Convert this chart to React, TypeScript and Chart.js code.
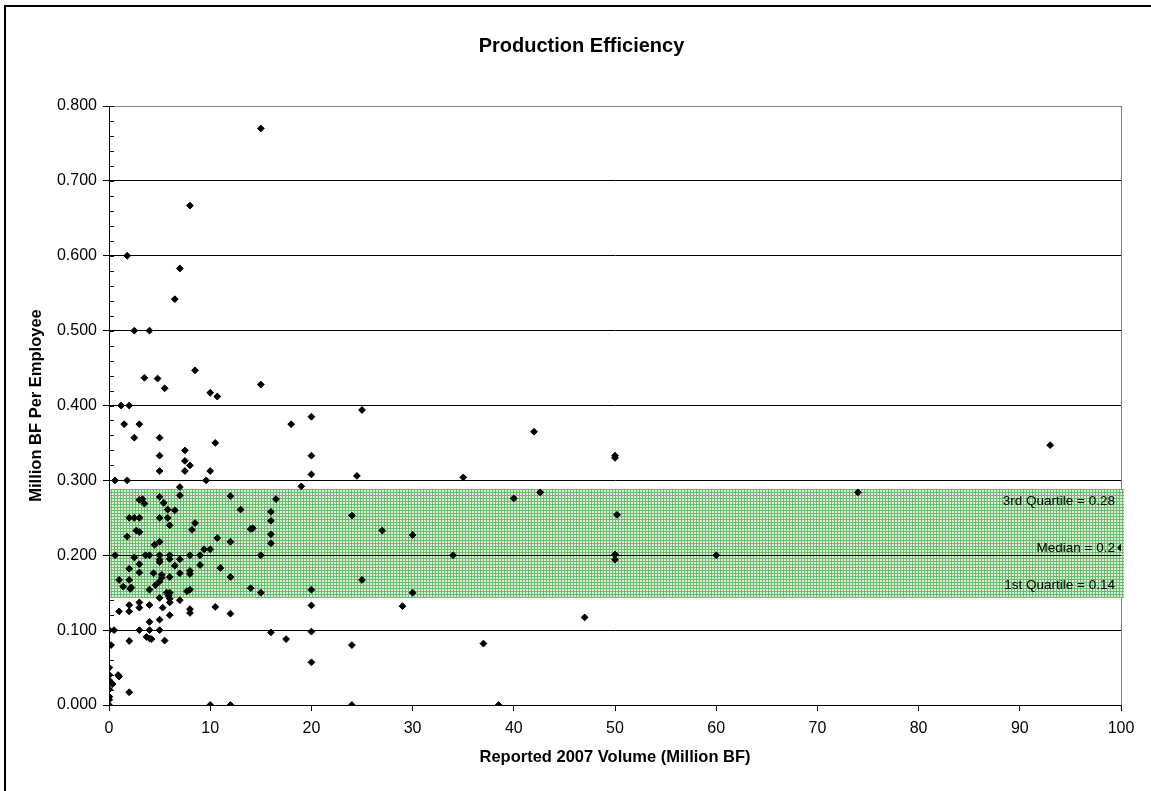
import React, { useEffect, useRef } from "react";
import { Chart, registerables } from "chart.js";

Chart.register(...registerables);

// Reported 2007 volume (Million BF)
const volume: number[] = [
  15, 8, 1.8, 7, 6.5, 2.5, 4, 8.5, 3.5, 4.8,
  15, 5.5, 10, 10.7, 1.2, 2, 20, 25, 1.5, 3,
  18, 42, 2.5, 5, 10.5, 93, 7.5, 5, 20, 50,
  50, 7.5, 8, 5, 7.5, 10, 20, 24.5, 35, 0.6,
  1.8, 9.6, 7, 19, 74, 42.6, 7, 5, 12, 40,
  16.5, 3, 3.3, 3.5, 5.4, 5.8, 6.5, 13, 16, 50.2,
  24, 2, 2.5, 3, 5, 5.8, 16, 8.5, 6, 8.2,
  14, 14.2, 27, 2.7, 3, 16, 30, 1.8, 10.7, 12,
  5, 4.5, 16, 100, 9.4, 10, 0.6, 3.6, 4, 5,
  6, 8, 9, 15, 34, 50, 60, 2.5, 6, 7,
  5, 5, 50, 3, 6.5, 9, 2, 11, 8, 3,
  4.4, 7, 8, 5.2, 6, 12, 5.2, 1, 2, 25,
  5, 4.6, 1.4, 2.2, 2.1, 14, 4, 8, 20, 7.7,
  5.7, 6, 15, 30, 5.9, 5, 6, 7, 6, 3,
  2, 4, 20, 29, 10.5, 3, 5.3, 8, 1, 2,
  8, 12, 6, 47, 5, 4, 0.03, 0.5, 3, 4,
  5, 16, 20, 3.7, 4, 4.2, 17.5, 5.5, 2, 37,
  0.2, 24, 20, 0.03, 0.03, 0.9, 1, 0.03, 0.36, 0.03,
  2, 0.03, 0.02, 0, 10, 12, 24, 38.5,
];

// Million BF per employee
const perEmployee: number[] = [
  0.77, 0.667, 0.6, 0.583, 0.542, 0.5, 0.5, 0.447, 0.437, 0.436,
  0.428, 0.423, 0.417, 0.412, 0.4, 0.4, 0.385, 0.394, 0.375, 0.375,
  0.375, 0.365, 0.357, 0.357, 0.35, 0.347, 0.34, 0.333, 0.333, 0.333,
  0.33, 0.326, 0.32, 0.3125, 0.3125, 0.3125, 0.308, 0.306, 0.304, 0.3,
  0.3, 0.3, 0.291, 0.292, 0.284, 0.284, 0.28, 0.278, 0.279, 0.276,
  0.275, 0.274, 0.275, 0.269, 0.27, 0.261, 0.26, 0.261, 0.258, 0.254,
  0.253, 0.25, 0.25, 0.25, 0.25, 0.25, 0.246, 0.243, 0.24, 0.234,
  0.235, 0.236, 0.233, 0.233, 0.231, 0.228, 0.227, 0.225, 0.223, 0.218,
  0.218, 0.214, 0.216, 0.21, 0.208, 0.208, 0.2, 0.2, 0.2, 0.2,
  0.2, 0.2, 0.2, 0.2, 0.2, 0.201, 0.2, 0.197, 0.195, 0.1945,
  0.194, 0.191, 0.194, 0.188, 0.186, 0.187, 0.182, 0.183, 0.179, 0.177,
  0.176, 0.176, 0.175, 0.174, 0.171, 0.171, 0.17, 0.167, 0.167, 0.167,
  0.165, 0.16, 0.158, 0.157, 0.155, 0.156, 0.154, 0.154, 0.154, 0.152,
  0.15, 0.15, 0.15, 0.15, 0.146, 0.143, 0.142, 0.14, 0.137, 0.137,
  0.1335, 0.1335, 0.133, 0.132, 0.131, 0.13, 0.13, 0.128, 0.125, 0.125,
  0.123, 0.122, 0.12, 0.117, 0.114, 0.111, 0.1, 0.1, 0.1, 0.1,
  0.1, 0.097, 0.098, 0.091, 0.089, 0.088, 0.088, 0.086, 0.0855, 0.082,
  0.08, 0.08, 0.057, 0.05, 0.04, 0.04, 0.038, 0.033, 0.028, 0.021,
  0.017, 0.011, 0.007, 0, 0, 0, 0, 0,
];

const chartTitle = "Production Efficiency";
const xTitle = "Reported 2007 Volume (Million BF)";
const yTitle = "Million BF Per Employee";

// Quartile band
const bandLow = [0.143];
const bandHigh = [0.2885];
const medianValue = [0.2];
const quartileLabels = ["3rd Quartile = 0.28", "Median = 0.2", "1st Quartile = 0.14"];

const FONT = '"Liberation Sans", Arial, Helvetica, sans-serif';

function makePattern(): CanvasPattern | string {
  const c = document.createElement("canvas");
  c.width = 3;
  c.height = 3;
  const g = c.getContext("2d");
  if (!g) return "#a9d6a9";
  g.fillStyle = "#d8eed8";
  g.fillRect(0, 0, 3, 3);
  g.fillStyle = "#6cba6c";
  g.fillRect(0, 0, 3, 1);
  g.fillRect(0, 0, 1, 3);
  const p = g.createPattern(c, "repeat");
  return p || "#a9d6a9";
}

export default function App() {
  const canvasRef = useRef<HTMLCanvasElement | null>(null);

  useEffect(() => {
    const canvas = canvasRef.current;
    if (!canvas) return;
    const pattern = makePattern();

    const decor = {
      id: "decor",
      beforeDatasetsDraw(chart: any) {
        const { ctx, chartArea, scales } = chart;
        const x = scales.x;
        const y = scales.y;
        ctx.save();
        // right plot border (gray)
        ctx.strokeStyle = "#808080";
        ctx.lineWidth = 1;
        ctx.beginPath();
        ctx.moveTo(Math.round(chartArea.right) + 0.5, chartArea.top);
        ctx.lineTo(Math.round(chartArea.right) + 0.5, chartArea.bottom);
        ctx.stroke();

        // minor / inner ticks on y axis
        ctx.strokeStyle = "#000";
        const ax = Math.round(chartArea.left);
        for (let i = 0; i <= 40; i++) {
          const py = Math.round(y.getPixelForValue(i * 0.02)) + 0.5;
          ctx.beginPath();
          ctx.moveTo(ax, py);
          ctx.lineTo(ax + 5, py);
          ctx.stroke();
        }

        // quartile band
        const x0 = x.getPixelForValue(0);
        const x1 = x.getPixelForValue(100) + 3;
        const yTop = Math.round(y.getPixelForValue(bandHigh[0]));
        const yBot = Math.round(y.getPixelForValue(bandLow[0]));
        ctx.fillStyle = pattern as any;
        ctx.fillRect(Math.round(x0) + 1, yTop, Math.round(x1 - x0) - 1, yBot - yTop);

        // median line
        const ym = Math.round(y.getPixelForValue(medianValue[0])) + 0.5;
        ctx.strokeStyle = "#000";
        ctx.beginPath();
        ctx.moveTo(x0, ym);
        ctx.lineTo(x.getPixelForValue(100), ym);
        ctx.stroke();

        // labels
        ctx.font = `13.5px ${FONT}`;
        ctx.fillStyle = "#000";
        ctx.textAlign = "right";
        ctx.textBaseline = "middle";
        const lx = x.getPixelForValue(100) - 6;
        ctx.fillText(quartileLabels[0], lx, yTop + 12);
        ctx.fillText(quartileLabels[1], lx, ym - 7);
        ctx.fillText(quartileLabels[2], lx, yBot - 13);
        ctx.restore();
      },
      afterDraw(chart: any) {
        const { ctx } = chart;
        ctx.save();
        // outer chart frame (left and top edges visible)
        ctx.fillStyle = "#000";
        ctx.fillRect(4, 5, 2, chart.height);
        ctx.fillRect(4, 5, chart.width, 2);
        // title
        ctx.font = `bold 20px ${FONT}`;
        ctx.textAlign = "center";
        ctx.textBaseline = "middle";
        ctx.fillText(chartTitle, 581.5, 46);
        ctx.restore();
      },
    };

    const points = volume.map((v, i) => ({ x: v, y: perEmployee[i] }));

    const chart = new Chart(canvas, {
      type: "scatter",
      data: {
        datasets: [
          {
            label: "Efficiency",
            data: points,
            pointStyle: "rectRot",
            pointRadius: 3.4,
            pointBorderWidth: 1,
            backgroundColor: "#000",
            borderColor: "#000",
          },
        ],
      },
      options: {
        responsive: false,
        animation: false,
        layout: { padding: { left: 0, right: 30, top: 106, bottom: 0 } },
        plugins: {
          legend: { display: false },
          title: { display: false },
          tooltip: { enabled: false },
        },
        scales: {
          x: {
            type: "linear",
            min: 0,
            max: 100,
            ticks: {
              stepSize: 10,
              color: "#000",
              font: { family: FONT, size: 16 },
              padding: 8,
              maxRotation: 0,
            },
            grid: {
              drawOnChartArea: false,
              drawTicks: true,
              tickLength: 6,
              color: "#000",
              tickColor: "#000",
            },
            border: { display: true, color: "#000", width: 1 },
            title: {
              display: true,
              text: xTitle,
              color: "#000",
              font: { family: FONT, size: 16.5, weight: "bold" },
              padding: { top: 0, bottom: 24 },
            },
            afterFit(scale: any) {
              scale.height = 86;
            },
          },
          y: {
            type: "linear",
            min: 0,
            max: 0.8,
            ticks: {
              stepSize: 0.1,
              color: "#000",
              font: { family: FONT, size: 16 },
              padding: 6,
              callback: (v: any) => Number(v).toFixed(3),
            },
            grid: {
              drawTicks: true,
              tickLength: 6,
              color: (ctx: any) =>
                ctx.tick && Math.abs(ctx.tick.value - 0.8) < 1e-9 ? "#808080" : "#000",
              tickColor: "#000",
            },
            border: { display: true, color: "#000", width: 1 },
            title: {
              display: true,
              text: yTitle,
              color: "#000",
              font: { family: FONT, size: 16.5, weight: "bold" },
              padding: { top: 27, bottom: 0 },
            },
            afterFit(scale: any) {
              scale.width = 109;
            },
          },
        },
      },
      plugins: [decor],
    });

    return () => chart.destroy();
  }, []);

  return (
    <div style={{ position: "absolute", left: 0, top: 0, width: 1151, height: 791, background: "#fff" }}>
      <canvas ref={canvasRef} width={1151} height={791} style={{ display: "block" }} />
    </div>
  );
}
